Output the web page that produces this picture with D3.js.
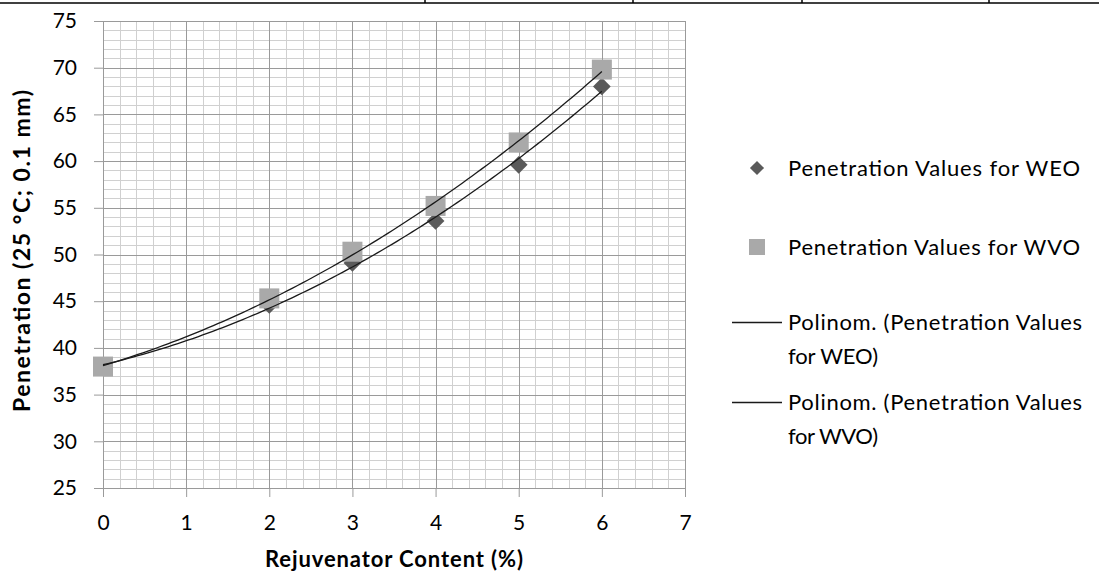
<!DOCTYPE html>
<html>
<head>
<meta charset="utf-8">
<script src="https://cdn.jsdelivr.net/npm/d3@7"></script>
<style>
  html, body { margin: 0; padding: 0; background: #fff; }
  svg { display: block; font-family: Lato, "Open Sans", sans-serif; }
</style>
</head>
<body>
<svg id="chart" width="1099" height="577"></svg>
<script>
// data
const rejuvenatorContent = [0, 2, 3, 4, 5, 6]
const weoValues = [38, 44.6, 49.1, 53.6, 59.6, 68]
const wvoValues = [38, 45.3, 50.3, 55.2, 62, 69.8]
const xTicks = [0, 1, 2, 3, 4, 5, 6, 7]
const yTicks = [25, 30, 35, 40, 45, 50, 55, 60, 65, 70, 75]
const legendLabels = [
  'Penetration Values for WEO',
  'Penetration Values for WVO',
  'Polinom. (Penetration Values|for WEO)',
  'Polinom. (Penetration Values|for WVO)'
]

const svg = d3.select('#chart')
const width = 1099

// table border remnant above the chart
const borderTicks = [425, 633, 802, 989]
svg.append('line')
  .attr('x1', 0).attr('x2', width).attr('y1', 3).attr('y2', 3)
  .style('stroke', '#000').style('stroke-width', 1.6)
borderTicks.forEach(bx => {
  svg.append('line')
    .attr('x1', bx).attr('x2', bx).attr('y1', 0).attr('y2', 3)
    .style('stroke', '#000').style('stroke-width', 1.5)
})

const plot = { left: 103, right: 685, top: 21, bottom: 488 }
const x = d3.scaleLinear().domain([0, 7]).range([plot.left, plot.right])
const y = d3.scaleLinear().domain([25, 75]).range([plot.bottom, plot.top])

const grid = svg.append('g')

// minor grid
const xMinor = d3.range(0, 7.001, 0.2).map(v => +v.toFixed(1))
const yMinor = d3.range(25, 75.001, 1)
grid.selectAll('.vminor').data(xMinor).join('line')
  .attr('x1', d => Math.round(x(d)) + 0.5).attr('x2', d => Math.round(x(d)) + 0.5)
  .attr('y1', plot.top).attr('y2', plot.bottom)
  .style('stroke', '#d0d0d0').style('stroke-width', 1)
grid.selectAll('.hminor').data(yMinor).join('line')
  .attr('x1', plot.left).attr('x2', plot.right)
  .attr('y1', d => Math.round(y(d)) + 0.5).attr('y2', d => Math.round(y(d)) + 0.5)
  .style('stroke', '#d0d0d0').style('stroke-width', 1)

// major grid
grid.selectAll('.vmajor').data(xTicks).join('line')
  .attr('x1', d => Math.round(x(d)) + 0.5).attr('x2', d => Math.round(x(d)) + 0.5)
  .attr('y1', plot.top).attr('y2', plot.bottom)
  .style('stroke', '#9a9a9a').style('stroke-width', 1)
grid.selectAll('.hmajor').data(yTicks).join('line')
  .attr('x1', plot.left).attr('x2', plot.right)
  .attr('y1', d => Math.round(y(d)) + 0.5).attr('y2', d => Math.round(y(d)) + 0.5)
  .style('stroke', '#9a9a9a').style('stroke-width', 1)

// axes
const xAxis = svg.append('g')
  .attr('transform', `translate(0,${plot.bottom})`)
  .call(d3.axisBottom(x).tickValues(xTicks).tickFormat(d3.format('d')).tickSize(9).tickPadding(18))
const yAxis = svg.append('g')
  .attr('transform', `translate(${plot.left},0)`)
  .call(d3.axisLeft(y).tickValues(yTicks).tickFormat(d3.format('d')).tickSize(9).tickPadding(17))
;[xAxis, yAxis].forEach(a => {
  a.select('.domain').style('stroke', '#9a9a9a')
  a.selectAll('.tick line').style('stroke', '#9a9a9a')
  a.selectAll('.tick text')
    .style('font-family', 'Lato, sans-serif')
    .style('font-size', '21px')
    .style('fill', '#000')
})

// quadratic least squares, like the spreadsheet "Polinom." trendline
function quadFit(xs, ys) {
  const s = [0, 0, 0, 0, 0]
  const t = [0, 0, 0]
  xs.forEach((xv, i) => {
    for (let k = 0; k < 5; k++) s[k] += Math.pow(xv, k)
    for (let k = 0; k < 3; k++) t[k] += Math.pow(xv, k) * ys[i]
  })
  const m = [
    [s[0], s[1], s[2], t[0]],
    [s[1], s[2], s[3], t[1]],
    [s[2], s[3], s[4], t[2]]
  ]
  for (let c = 0; c < 3; c++) {
    for (let r = c + 1; r < 3; r++) {
      const f = m[r][c] / m[c][c]
      for (let k = c; k < 4; k++) m[r][k] -= f * m[c][k]
    }
  }
  const coef = [0, 0, 0]
  for (let r = 2; r >= 0; r--) {
    let v = m[r][3]
    for (let k = r + 1; k < 3; k++) v -= m[r][k] * coef[k]
    coef[r] = v / m[r][r]
  }
  return xv => coef[0] + coef[1] * xv + coef[2] * xv * xv
}

const markerSize = 20
const markers = svg.append('g')

// WEO diamonds
markers.selectAll('.weo').data(rejuvenatorContent).join('path')
  .attr('d', d3.symbol(d3.symbolDiamond2, markerSize * markerSize / 2)())
  .attr('transform', (d, i) => `translate(${x(d)},${y(weoValues[i])})`)
  .style('fill', '#5a5a5a')

// WVO squares
markers.selectAll('.wvo').data(rejuvenatorContent).join('rect')
  .attr('x', d => x(d) - markerSize / 2)
  .attr('y', (d, i) => y(wvoValues[i]) - markerSize / 2)
  .attr('width', markerSize).attr('height', markerSize)
  .style('fill', '#a9a9a9')

// trend lines
const xMin = d3.min(rejuvenatorContent)
const xMax = d3.max(rejuvenatorContent)
const samples = d3.range(0, 101).map(i => xMin + (xMax - xMin) * i / 100)
const line = d3.line().x(d => x(d[0])).y(d => y(d[1]))
;[weoValues, wvoValues].forEach(vals => {
  const f = quadFit(rejuvenatorContent, vals)
  svg.append('path')
    .attr('d', line(samples.map(s => [s, f(s)])))
    .style('fill', 'none')
    .style('stroke', '#1a1a1a')
    .style('stroke-width', 1.3)
})

// axis titles
svg.append('text')
  .attr('x', 394).attr('y', 567)
  .attr('text-anchor', 'middle')
  .attr('textLength', 258).attr('lengthAdjust', 'spacing')
  .style('font-size', '22px').style('font-weight', 'bold')
  .text('Rejuvenator Content (%)')

svg.append('text')
  .attr('transform', 'translate(30,251) rotate(-90)')
  .attr('text-anchor', 'middle')
  .attr('textLength', 322).attr('lengthAdjust', 'spacing')
  .style('font-size', '23px').style('font-weight', 'bold')
  .text('Penetration (25 °C; 0.1 mm)')

// legend
const legend = svg.append('g').style('font-size', '22px')
const legendY = [168, 247, 322, 402]
legendLabels.forEach((label, i) => {
  const ly = legendY[i]
  if (i === 0) {
    legend.append('path')
      .attr('d', d3.symbol(d3.symbolDiamond2, 16 * 16 / 2)())
      .attr('transform', `translate(757,${ly})`)
      .style('fill', '#5a5a5a')
  } else if (i === 1) {
    legend.append('rect')
      .attr('x', 749).attr('y', ly - 8).attr('width', 16).attr('height', 16)
      .style('fill', '#a9a9a9')
  } else {
    legend.append('line')
      .attr('x1', 732).attr('x2', 782).attr('y1', ly + 0.5).attr('y2', ly + 0.5)
      .style('stroke', '#1a1a1a').style('stroke-width', 1.3)
  }
  const widths = i < 2 ? [292] : [294, 90]
  label.split('|').forEach((part, j) => {
    legend.append('text')
      .attr('x', 788).attr('y', ly + 8 + j * 34)
      .attr('textLength', widths[j]).attr('lengthAdjust', 'spacing')
      .style('fill', '#000')
      .text(part)
  })
})
</script>
</body>
</html>
